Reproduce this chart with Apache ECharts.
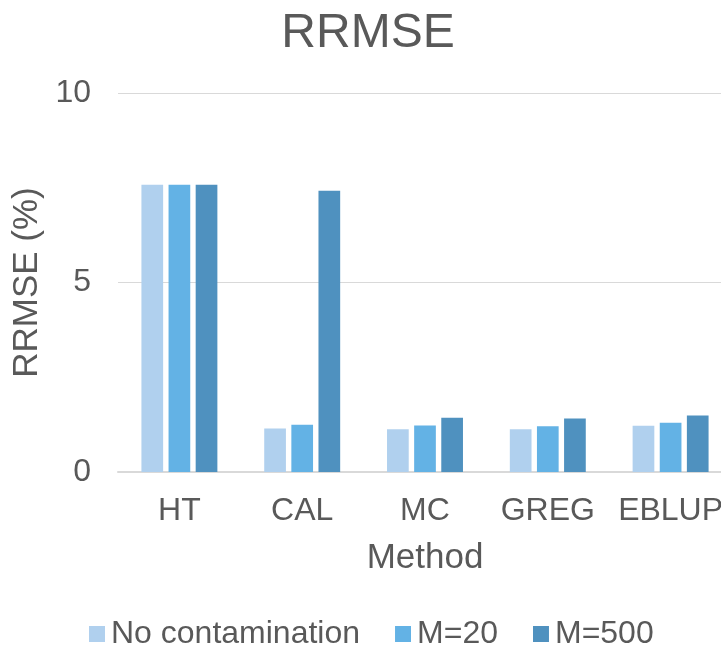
<!DOCTYPE html>
<html>
<head>
<meta charset="utf-8">
<script src="https://cdn.jsdelivr.net/npm/echarts@6/dist/echarts.min.js"></script>
<style>
  html, body { margin: 0; padding: 0; background: #ffffff; }
  #chart { width: 721px; height: 647px; }
</style>
</head>
<body>
<div id="chart"></div>
<script>
// Estimation methods on the x axis
const methods = ['HT', 'CAL', 'MC', 'GREG', 'EBLUP'];

// RRMSE (%) per method, one array per contamination scenario
const noContamination = [7.58, 1.15, 1.13, 1.13, 1.22];
const m20 = [7.58, 1.25, 1.23, 1.21, 1.30];
const m500 = [7.58, 7.42, 1.43, 1.41, 1.49];

const seriesNames = ['No contamination', 'M=20', 'M=500'];
const seriesColors = ['#b0d0ee', '#63b2e5', '#4f91bf'];

// Y axis ticks
const yTicks = [0, 5, 10];

const FONT = '"Liberation Sans", Arial, sans-serif';
const TEXT = '#595959';

const chart = echarts.init(document.getElementById('chart'), null, { renderer: 'canvas' });

const seriesData = [noContamination, m20, m500];

chart.setOption({
  animation: false,
  backgroundColor: '#ffffff',
  title: {
    text: 'RRMSE',
    left: 363,
    top: 5,
    textAlign: 'center',
    textStyle: { fontFamily: FONT, fontSize: 48, fontWeight: 'normal', color: TEXT }
  },
  legend: {
    left: 89,
    top: 618,
    padding: 0,
    itemWidth: 16,
    itemHeight: 16,
    itemGap: 35,
    icon: 'rect',
    textStyle: { fontFamily: FONT, fontSize: 32, color: TEXT, padding: [0, 0, 0, 1] },
    data: seriesNames
  },
  grid: {
    left: 118,
    top: 93,
    width: 614,
    bottom: 647 - 472,
    containLabel: false,
    outerBoundsMode: 'none'
  },
  xAxis: {
    type: 'category',
    data: methods,
    name: 'Method',
    nameLocation: 'middle',
    nameGap: 69,
    nameTextStyle: { fontFamily: FONT, fontSize: 35, color: TEXT },
    axisLine: { show: true, lineStyle: { color: '#d9d9d9', width: 2 } },
    axisTick: { show: false },
    axisLabel: { fontFamily: FONT, fontSize: 32, color: TEXT, margin: 23, interval: 0 }
  },
  yAxis: {
    type: 'value',
    min: yTicks[0],
    max: yTicks[yTicks.length - 1],
    interval: yTicks[1] - yTicks[0],
    name: 'RRMSE (%)',
    nameLocation: 'middle',
    nameGap: 69,
    nameTextStyle: { fontFamily: FONT, fontSize: 35, color: TEXT },
    axisLine: { show: false },
    axisTick: { show: false },
    splitLine: { lineStyle: { color: '#d9d9d9', width: 1 } },
    axisLabel: { fontFamily: FONT, fontSize: 32, color: TEXT, margin: 27 }
  },
  series: seriesNames.map((name, i) => ({
    name: name,
    type: 'bar',
    data: seriesData[i],
    barWidth: 21.7,
    barGap: '25%',
    itemStyle: { color: seriesColors[i] }
  }))
});
</script>
</body>
</html>
